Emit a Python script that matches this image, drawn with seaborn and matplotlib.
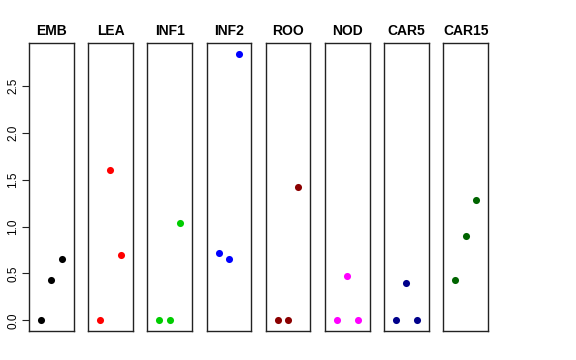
import matplotlib
matplotlib.use('Agg')
import matplotlib.pyplot as plt
import pandas as pd
import seaborn as sns

# tissues and their three values each
tissues = ['EMB', 'LEA', 'INF1', 'INF2', 'ROO', 'NOD', 'CAR5', 'CAR15']
emb = [0.0, 0.43, 0.65]
lea = [0.0, 1.60, 0.70]
inf1 = [0.0, 0.0, 1.04]
inf2 = [0.72, 0.65, 2.84]
roo = [0.0, 0.0, 1.42]
nod = [0.0, 0.47, 0.0]
car5 = [0.0, 0.40, 0.0]
car15 = [0.43, 0.90, 1.28]
colors = ['black', 'red', '#00cd00', 'blue', '#8b0000', 'magenta', '#00008b', '#006400']

values = [emb, lea, inf1, inf2, roo, nod, car5, car15]
rows = []
for t, vals in zip(tissues, values):
    for i, v in enumerate(vals):
        rows.append({'tissue': t, 'rep': i + 1, 'value': v})
df = pd.DataFrame(rows)

sns.set_style('white')
plt.rcParams['font.family'] = ['Liberation Sans', 'DejaVu Sans']

fig = plt.figure(figsize=(5.76, 3.6), dpi=100)
ymax = 2.84
pad = ymax * 0.04
for k, t in enumerate(tissues):
    left = (29 + 59.2 * k) / 576
    ax = fig.add_axes([left, 29 / 360, 44.5 / 576, 287.7 / 360])
    sub = df[df['tissue'] == t]
    sns.scatterplot(data=sub, x='rep', y='value', color=colors[k], s=26,
                    linewidth=0, ax=ax, legend=False)
    ax.set_xlim(-0.15, 4.15)
    ax.set_ylim(-pad, ymax + pad)
    ax.set_xticks([])
    ax.set_xlabel('')
    ax.set_ylabel('')
    ax.set_title(t, fontsize=10, fontweight='bold', pad=6, color='black')
    for s in ax.spines.values():
        s.set_color('#222222')
        s.set_linewidth(1.0)
    if k == 0:
        ax.set_yticks([0, 0.5, 1.0, 1.5, 2.0, 2.5])
        ax.set_yticklabels(['0.0', '0.5', '1.0', '1.5', '2.0', '2.5'],
                           rotation=90, va='center', fontsize=8.5)
        ax.tick_params(axis='y', left=True, length=5, width=0.8, pad=2,
                       color='#222222', labelcolor='black')
    else:
        ax.set_yticks([])

fig.savefig('out.png', dpi=100)
